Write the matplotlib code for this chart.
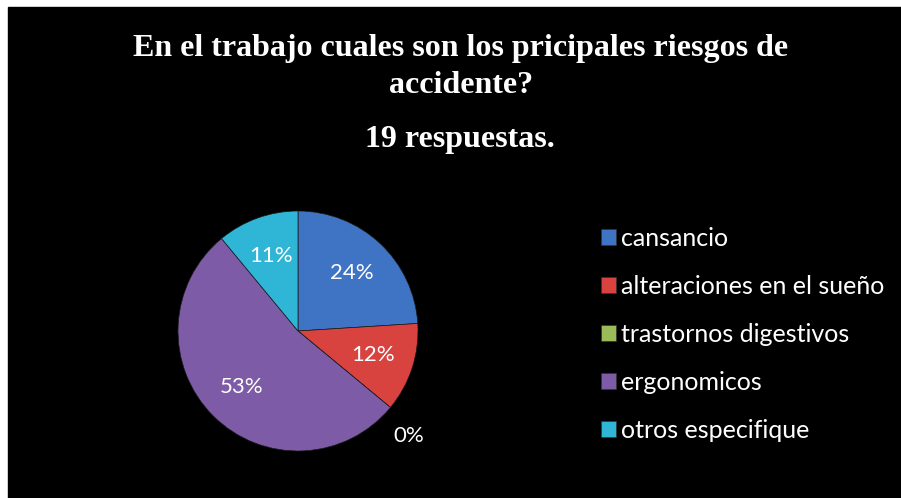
import numpy as np
import matplotlib.pyplot as plt
from matplotlib.patches import Rectangle, Patch

# datos
categorias = ["cansancio", "alteraciones en el sueño", "trastornos digestivos",
              "ergonomicos", "otros especifique"]
porcentajes = [24, 12, 0, 53, 11]
colores = ["#3f74c4", "#d8433f", "#9bbb59", "#7d5ba6", "#2fb5d6"]

titulo = "En el trabajo cuales son los pricipales riesgos de\naccidente?"
subtitulo = "19 respuestas."

W, H = 901, 498
fig = plt.figure(figsize=(W / 100, H / 100), dpi=100)
fig.patch.set_facecolor("white")
# fondo negro con borde blanco arriba y a la izquierda
fig.patches.append(Rectangle((8 / W, 0), 1 - 8 / W, 1 - 7 / H,
                             transform=fig.transFigure, color="black", zorder=-10))

# pie: centro (298, 331), radio 120 px
cx, cy, r = 298, 331, 120
ax = fig.add_axes([(cx - r) / W, (H - cy - r) / H, 2 * r / W, 2 * r / H])
ax.set_facecolor("none")
wedges, _, textos = ax.pie(porcentajes, colors=colores, startangle=90, counterclock=False,
                           radius=1, pctdistance=0.66,
                           autopct=lambda p: f"{p:.0f}%",
                           wedgeprops=dict(edgecolor="#1a1a1a", linewidth=0.5),
                           textprops=dict(color="white", fontsize=16, family="Lato"))
ax.set_xlim(-1, 1)
ax.set_ylim(-1, 1)
ax.set_aspect("equal")

# la etiqueta del 0% va afuera del pie
for w, t, v in zip(wedges, textos, porcentajes):
    if v == 0:
        ang = np.deg2rad(w.theta1 - 4)
        t.set_position((1.27 * np.cos(ang), 1.27 * np.sin(ang)))

fig.text(461 / W, 1 - 67 / H, titulo, ha="center", va="center", color="white",
         fontsize=23, fontweight="bold", family="Liberation Serif", linespacing=1.4)
fig.text(460 / W, 1 - 140 / H, subtitulo, ha="center", va="center", color="white",
         fontsize=23, fontweight="bold", family="Liberation Serif")

handles = [Patch(facecolor=c, edgecolor="#333333", linewidth=0.5) for c in colores]
fig.legend(handles, categorias, loc="upper left", bbox_to_anchor=(601 / W, 1 - 227 / H),
           frameon=False, labelcolor="white", prop=dict(family="Lato", size=18),
           borderpad=0, borderaxespad=0,
           handlelength=0.6, handleheight=0.6, handletextpad=0.2, labelspacing=1.0)

fig.savefig("out.png", dpi=100, facecolor=fig.get_facecolor())
